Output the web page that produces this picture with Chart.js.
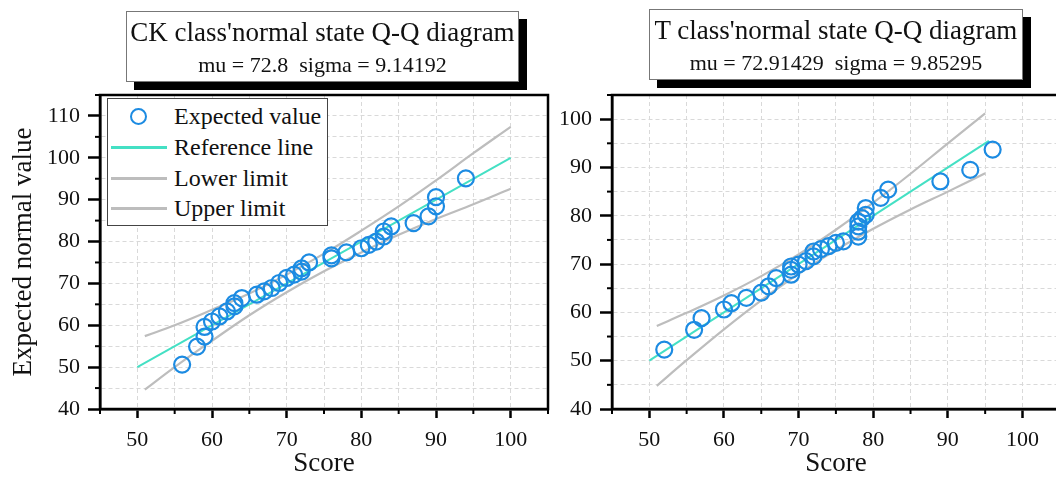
<!DOCTYPE html>
<html><head><meta charset="utf-8">
<script src="https://cdn.jsdelivr.net/npm/chart.js@4.4.1/dist/chart.umd.min.js"></script>
<style>
html,body{margin:0;padding:0;width:1056px;height:477px;overflow:hidden;background:#fff;font-family:"Liberation Serif","Times New Roman",serif;color:#111}
#c1{position:absolute;left:0;top:0;}
#c2{position:absolute;left:560px;top:0;}
.tbox{position:absolute;box-sizing:border-box;border:1px solid #777;background:#fff;box-shadow:8px 8px 0 #000;}
.tbox .l1{position:absolute;left:0;right:0;text-align:center;font-size:27px;line-height:30px;top:5px;white-space:pre}
.tbox .l2{position:absolute;left:0;right:0;text-align:center;font-size:22px;line-height:24px;top:41px;white-space:pre}
.legend{position:absolute;left:107px;top:98px;width:221px;height:128px;box-sizing:border-box;border:1px solid #444;background:#fff}
.legend .row{position:absolute;left:66px;font-size:24px;line-height:30px;white-space:pre}
.legend .sym{position:absolute;}
</style>
</head><body>
<canvas id="c1" width="560" height="477"></canvas>
<canvas id="c2" width="510" height="477"></canvas>

<div class="tbox" style="left:126px;top:11px;width:393px;height:71px">
  <div class="l1">CK class'normal state Q-Q diagram</div>
  <div class="l2">mu = 72.8  sigma = 9.14192</div>
</div>
<div class="tbox" style="left:649px;top:9px;width:374px;height:71px">
  <div class="l1">T class'normal state Q-Q diagram</div>
  <div class="l2">mu = 72.91429  sigma = 9.85295</div>
</div>

<div class="legend">
  <div class="sym" style="left:22px;top:9px;width:13px;height:13px;border:2.2px solid #1c8be2;border-radius:50%"></div>
  <div class="row" style="top:2px">Expected value</div>
  <div class="sym" style="left:3px;top:47px;width:56px;height:2.5px;background:#44e0c4"></div>
  <div class="row" style="top:33px">Reference line</div>
  <div class="sym" style="left:3px;top:78px;width:56px;height:2.5px;background:#bdbdbd"></div>
  <div class="row" style="top:64px">Lower limit</div>
  <div class="sym" style="left:3px;top:108px;width:56px;height:2.5px;background:#bdbdbd"></div>
  <div class="row" style="top:94px">Upper limit</div>
</div>

<script>
// ---- CK class data ----
const ckScores   = [56,58,59,59,60,61,62,63,63,64,66,67,68,69,70,71,72,72,73,76,76,78,80,81,82,83,83,84,87,89,90,90,94];
const ckExpected = [50.6,54.9,57.3,59.6,60.9,62.1,63.3,64.5,65.3,66.5,67.3,68.1,68.9,70.1,71.3,72.1,72.8,73.6,75.0,76.0,76.7,77.4,78.4,79.2,80.0,81.2,82.4,83.6,84.4,86.0,88.4,90.6,95.1];
const ckRefX = [50,100];
const ckRefY = [50,100];
const ckBandX  = [51,55,60,65,70,75,80,85,90,95,100];
const ckLower  = [44.6,50.0,56.3,62.4,67.9,72.9,77.4,81.6,85.4,88.9,92.6];
const ckUpper  = [57.4,60.0,63.7,67.6,72.1,77.1,82.6,88.4,94.6,101.1,107.4];

// ---- T class data ----
const tScores   = [52,56,57,60,61,63,65,66,67,69,69,69,70,71,72,72,73,74,75,76,78,78,78,78,78.5,79,79,81,82,89,93,96];
const tExpected = [52.3,56.4,58.8,60.6,61.9,63.0,64.1,65.4,67.1,67.8,68.8,69.5,69.9,70.6,71.6,72.6,73.1,73.7,74.4,74.7,75.7,76.7,77.8,78.8,79.5,80.2,81.6,83.7,85.4,87.1,89.5,93.7];
const tRefX = [50,95.5];
const tRefY = [50,95.5];
const tBandX = [51,55,60,65,70,75,80,85,90,95];
const tLower = [44.8,50.1,56.5,62.5,68.0,72.9,77.3,81.3,85.0,88.8];
const tUpper = [57.2,59.9,63.5,67.5,72.0,77.1,82.7,88.7,95.0,101.2];

// ---- axis ticks ----
const xMin = 45, xMax = 105, tickStep = 5;
const ckYMin = 40, ckYMax = 115;
const tYMin = 40, tYMax = 105;
const xLabelVals = [50,60,70,80,90,100];
const ckYLabelVals = [40,50,60,70,80,90,100,110];
const tYLabelVals = [40,50,60,70,80,90,100];

const SERIF = '"Liberation Serif", "Times New Roman", serif';
const BLUE = '#1c8be2', CYAN = '#44e0c4', GREY = '#bdbdbd';

const pts = (xs, ys) => xs.map((v, i) => ({x: v, y: ys[i]}));

const framePlugin = {
  id: 'frame',
  afterDraw(chart) {
    const {ctx, chartArea: a, scales: {x, y}} = chart;
    ctx.save();
    ctx.strokeStyle = '#000';
    ctx.lineWidth = 2;
    x.ticks.forEach(t => {
      if (t.value % 10 !== 0) {
        const px = x.getPixelForValue(t.value);
        ctx.beginPath(); ctx.moveTo(px, a.bottom); ctx.lineTo(px, a.bottom + 5); ctx.stroke();
      }
    });
    y.ticks.forEach(t => {
      if (t.value % 10 !== 0) {
        const py = y.getPixelForValue(t.value);
        ctx.beginPath(); ctx.moveTo(a.left, py); ctx.lineTo(a.left - 5, py); ctx.stroke();
      }
    });
    ctx.lineWidth = 2.5;
    ctx.strokeRect(a.left, a.top, a.right - a.left, a.bottom - a.top);
    ctx.restore();
  }
};

function makeChart(id, sx, sy, rx, ry, bx, lo, up, yMin, yMax, yLabels, yTitle, padding, yWidth) {
  return new Chart(document.getElementById(id), {
    type: 'scatter',
    data: {
      datasets: [
        {label: 'Expected value', data: pts(sx, sy), pointStyle: 'circle', pointRadius: 8,
         borderColor: BLUE, backgroundColor: 'rgba(0,0,0,0)', borderWidth: 2.2, showLine: false},
        {label: 'Reference line', data: pts(rx, ry), showLine: true, pointRadius: 0,
         borderColor: CYAN, borderWidth: 2},
        {label: 'Lower limit', data: pts(bx, lo), showLine: true, pointRadius: 0,
         borderColor: GREY, borderWidth: 2.2, tension: 0.4},
        {label: 'Upper limit', data: pts(bx, up), showLine: true, pointRadius: 0,
         borderColor: GREY, borderWidth: 2.2, tension: 0.4}
      ]
    },
    options: {
      responsive: false, animation: false, events: [],
      layout: {padding: padding},
      plugins: {legend: {display: false}, tooltip: {enabled: false}},
      scales: {
        x: {
          type: 'linear', min: xMin, max: xMax,
          afterFit: s => { s.height = 68; },
          ticks: {stepSize: tickStep, autoSkip: false, maxRotation: 0, padding: 9, color: '#111',
                  font: {family: SERIF, size: 22},
                  callback: v => xLabelVals.includes(v) ? String(v) : ''},
          grid: {color: '#d9d9d9', lineWidth: 1, tickLength: 9, tickWidth: 2.5,
                 tickColor: c => (c.tick && c.tick.value % 10 === 0) ? '#000' : 'rgba(0,0,0,0)'},
          border: {display: true, color: '#000', width: 2.5, dash: [4, 3]},
          title: {display: true, text: 'Score', color: '#111', font: {family: SERIF, size: 27, lineHeight: 1.2},
                  padding: {top: 0, bottom: -3}}
        },
        y: {
          type: 'linear', min: yMin, max: yMax,
          afterFit: s => { s.width = yWidth; },
          ticks: {stepSize: tickStep, autoSkip: false, padding: 8, color: '#111',
                  font: {family: SERIF, size: 22},
                  callback: v => yLabels.includes(v) ? String(v) : ''},
          grid: {color: '#d9d9d9', lineWidth: 1, tickLength: 12, tickWidth: 2.5,
                 tickColor: c => (c.tick && c.tick.value % 10 === 0) ? '#000' : 'rgba(0,0,0,0)'},
          border: {display: true, color: '#000', width: 2.5, dash: [4, 3]},
          title: {display: !!yTitle, text: yTitle || '', color: '#111',
                  font: {family: SERIF, size: 27, lineHeight: 1.2}, padding: {top: 5, bottom: 0}}
        }
      }
    },
    plugins: [framePlugin]
  });
}

makeChart('c1', ckScores, ckExpected, ckRefX, ckRefY, ckBandX, ckLower, ckUpper,
          ckYMin, ckYMax, ckYLabelVals, 'Expected normal value', {left: 3, right: 12, top: 95, bottom: 0}, 97);
makeChart('c2', tScores, tExpected, tRefX, tRefY, tBandX, tLower, tUpper,
          tYMin, tYMax, tYLabelVals, '', {left: 0, right: 9, top: 95, bottom: 0}, 52);
</script>
</body></html>
